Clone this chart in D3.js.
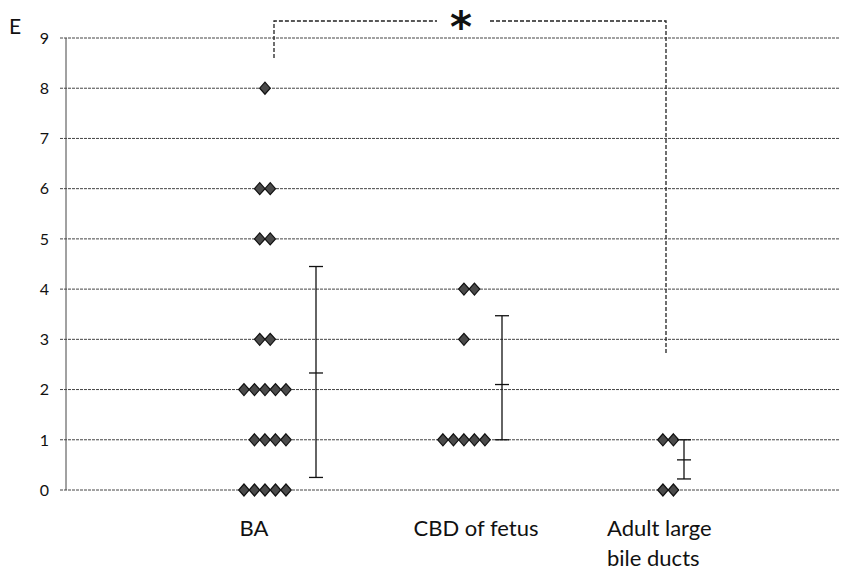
<!DOCTYPE html>
<html><head><meta charset="utf-8">
<script src="https://cdn.jsdelivr.net/npm/d3@7"></script>
<style>body{margin:0;background:#fff}svg{display:block}</style>
</head><body><svg id="c" width="857" height="570"></svg>
<script>
const categories = ["BA", "CBD of fetus", "Adult large bile ducts"];
const categoryLines = [["BA"], ["CBD of fetus"], ["Adult large", "bile ducts"]];
// points: [value, slot offset (in diamonds)]
const baPoints = [[8,0],[6,-0.5],[6,0.5],[5,-0.5],[5,0.5],[3,-0.5],[3,0.5],
  [2,-2],[2,-1],[2,0],[2,1],[2,2],[1,-1],[1,0],[1,1],[1,2],
  [0,-2],[0,-1],[0,0],[0,1],[0,2]];
const cbdPoints = [[4,0],[4,1],[3,0],[1,-2],[1,-1],[1,0],[1,1],[1,2]];
const adultPoints = [[1,0],[1,1],[0,0],[0,1]];
const means = [2.33, 2.1, 0.6];
const upper = [4.45, 3.47, 1.0];
const lower = [0.25, 1.0, 0.22];
const yTicks = [0,1,2,3,4,5,6,7,8,9];

const svg = d3.select("#c");
const y = d3.scaleLinear().domain([0,9]).range([490,38]);
const x = d3.scaleLinear().domain([0,3.89]).range([66,840]);
const slot = 10.5;
const font = "Lato, 'Open Sans', sans-serif";

// gridlines
svg.append("g").selectAll("line").data(yTicks).join("line")
  .attr("x1", 60).attr("x2", 840).attr("y1", d=>y(d)).attr("y2", d=>y(d))
  .attr("stroke", "#444").attr("stroke-width", 1).attr("stroke-dasharray", "3,1");
// y axis line
svg.append("line").attr("x1",66).attr("x2",66).attr("y1",y(9)).attr("y2",y(0))
  .attr("stroke","#444").attr("stroke-width",1);
svg.append("g").selectAll("text").data(yTicks).join("text")
  .attr("x", 49).attr("y", d=>y(d)).attr("dy","0.36em").attr("text-anchor","end")
  .attr("font-family",font).attr("font-size",16).attr("fill","#111")
  .text(d=>d);

svg.append("text").attr("x",9).attr("y",34).attr("font-family",font)
  .attr("font-size",21).attr("fill","#111").text("E");

// diamonds
const sets = [baPoints, cbdPoints, adultPoints];
const dPath = "M0,-6L5.3,0L0,6L-5.3,0Z";
sets.forEach((pts, i) => {
  svg.append("g").selectAll("path").data(pts).join("path")
    .attr("d", dPath)
    .attr("transform", d => `translate(${x(i+1) + d[1]*slot},${y(d[0])})`)
    .attr("fill","#4a4a4a").attr("stroke","#111").attr("stroke-width",1.2);
});

// error bars
const ebX = [316, 502, 684].map(v => x.invert(v));
categories.forEach((c,i) => {
  const g = svg.append("g").attr("stroke","#111").attr("stroke-width",1.3);
  const cx = x(ebX[i]);
  g.append("line").attr("x1",cx).attr("x2",cx).attr("y1",y(upper[i])).attr("y2",y(lower[i]));
  [upper[i], means[i], lower[i]].forEach(v => {
    g.append("line").attr("x1",cx-7).attr("x2",cx+7).attr("y1",y(v)).attr("y2",y(v));
  });
});

// category labels
const labelX = [254, 476, 607];
categoryLines.forEach((lines,i) => {
  const t = svg.append("text").attr("font-family",font).attr("font-size",22)
    .attr("fill","#111").attr("text-anchor", i===2 ? "start" : "middle");
  lines.forEach((l,j) => {
    t.append("tspan").attr("x", labelX[i]).attr("y", 536 + j*30).text(l);
  });
});

// significance bracket
const bracket = svg.append("g").attr("fill","none").attr("stroke","#222")
  .attr("stroke-width",1.3).attr("stroke-dasharray","4,2");
bracket.append("path").attr("d", `M274,${y(8.6)} V21 H437`);
bracket.append("path").attr("d", `M490,21 H666 V${y(2.72)}`);
svg.append("text").attr("x",461).attr("y",42).attr("text-anchor","middle")
  .attr("font-family","DejaVu Sans, sans-serif").attr("font-size",42).attr("font-weight","bold")
  .attr("fill","#111").text("*");
</script></body></html>
